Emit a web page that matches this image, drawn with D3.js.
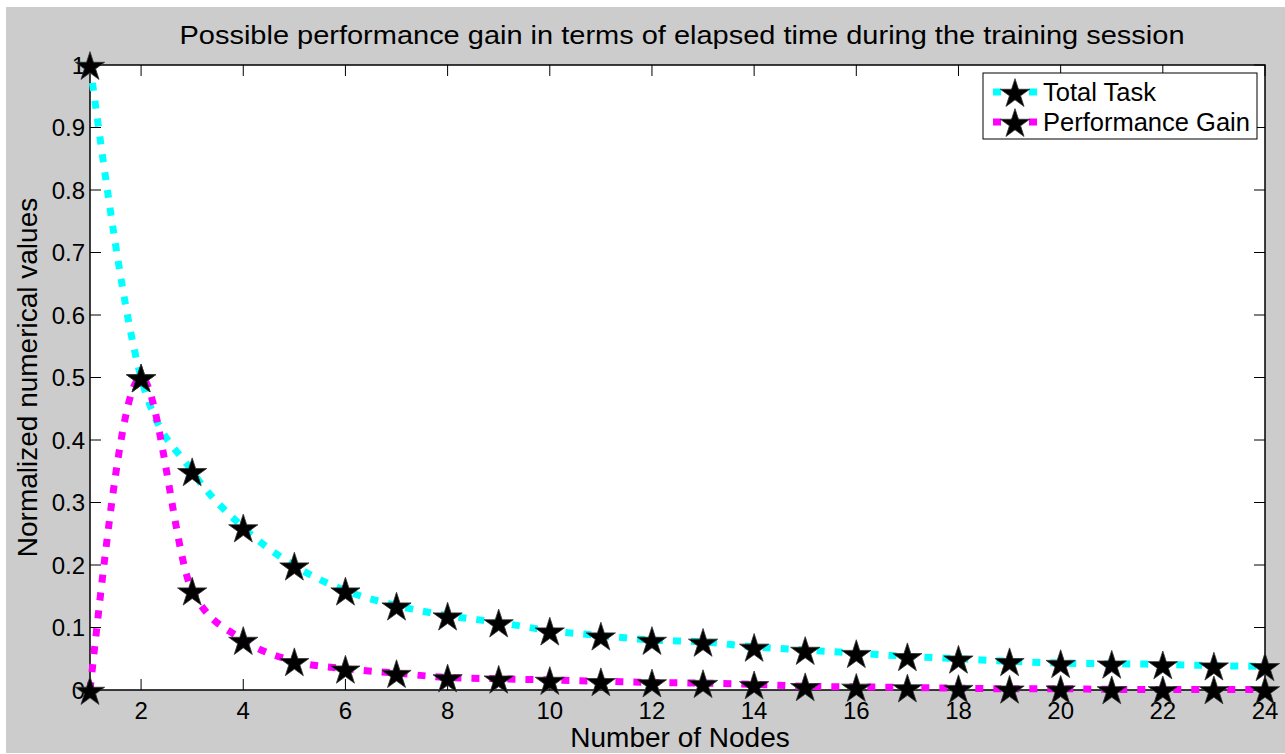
<!DOCTYPE html>
<html>
<head>
<meta charset="utf-8">
<script src="https://cdn.jsdelivr.net/npm/d3@7/dist/d3.min.js"></script>
<style>
  html, body { margin: 0; padding: 0; background: #ffffff; }
  svg { display: block; font-family: "Liberation Sans", Arial, Helvetica, sans-serif; }
</style>
</head>
<body>
<svg id="chart" width="1285" height="754"></svg>
<script>
// ---- data ----
const nodes = [1,2,3,4,5,6,7,8,9,10,11,12,13,14,15,16,17,18,19,20,21,22,23,24];
const totalTask = [1.0, 0.5, 0.35, 0.26, 0.199, 0.159, 0.135, 0.119, 0.108, 0.095, 0.087, 0.080, 0.077, 0.069, 0.064, 0.059, 0.054, 0.050, 0.046, 0.043, 0.042, 0.041, 0.039, 0.038];
const perfGain  = [0.0, 0.5, 0.159, 0.080, 0.046, 0.034, 0.027, 0.020, 0.018, 0.016, 0.014, 0.012, 0.011, 0.009, 0.006, 0.005, 0.004, 0.003, 0.002, 0.002, 0.001, 0.001, 0.001, 0.001];
const seriesNames = ["Total Task", "Performance Gain"];
const seriesColors = ["#00ffff", "#ff00ff"];
const xTicks = [2,4,6,8,10,12,14,16,18,20,22,24];
const yTicks = [0,0.1,0.2,0.3,0.4,0.5,0.6,0.7,0.8,0.9,1];
const yTickLabels = ["0","0.1","0.2","0.3","0.4","0.5","0.6","0.7","0.8","0.9","1"];
const titleText = "Possible performance gain in terms of elapsed time during the training session";
const xLabel = "Number of Nodes";
const yLabel = "Normalized numerical values";

// ---- layout ----
const svg = d3.select("#chart");
const L = 90, R = 1265, T = 65, B = 690;
const x = d3.scaleLinear().domain([1, 24]).range([L, R]);
const y = d3.scaleLinear().domain([0, 1]).range([B, T]);

// figure background
svg.append("rect").attr("x", 6).attr("y", 7).attr("width", 1285 - 6).attr("height", 753 - 7).attr("fill", "#cccccc");
// axes background
svg.append("rect").attr("x", L).attr("y", T).attr("width", R - L).attr("height", B - T).attr("fill", "#ffffff");

const tickLen = 11;
// x ticks bottom & top (inward)
const gx = svg.append("g");
xTicks.forEach(t => {
  gx.append("line").attr("x1", x(t)).attr("x2", x(t)).attr("y1", B).attr("y2", B - tickLen).attr("stroke", "#000").attr("stroke-width", 1);
  gx.append("line").attr("x1", x(t)).attr("x2", x(t)).attr("y1", T).attr("y2", T + tickLen).attr("stroke", "#000").attr("stroke-width", 1);
  gx.append("text").attr("x", x(t)).attr("y", 719).attr("text-anchor", "middle").attr("font-size", 24).attr("fill", "#000").text(t);
});
// y ticks left & right
const gy = svg.append("g");
yTicks.forEach((t, i) => {
  gy.append("line").attr("x1", L).attr("x2", L + tickLen).attr("y1", y(t)).attr("y2", y(t)).attr("stroke", "#000").attr("stroke-width", 1);
  gy.append("line").attr("x1", R).attr("x2", R - tickLen).attr("y1", y(t)).attr("y2", y(t)).attr("stroke", "#000").attr("stroke-width", 1);
  gy.append("text").attr("x", 85).attr("y", y(t) + 8.5).attr("text-anchor", "end").attr("font-size", 24).attr("fill", "#000").text(yTickLabels[i]);
});

// axes box
svg.append("rect").attr("x", L).attr("y", T).attr("width", R - L).attr("height", B - T)
  .attr("fill", "none").attr("stroke", "#000").attr("stroke-width", 1.5);

// lines
const line = d3.line().x((d, i) => x(nodes[i])).y(d => y(d)).curve(d3.curveMonotoneX);
const seriesData = [totalTask, perfGain];
seriesData.forEach((s, k) => {
  svg.append("path").datum(s).attr("d", line).attr("fill", "none")
    .attr("stroke", seriesColors[k]).attr("stroke-width", 7)
    .attr("stroke-dasharray", "8,10").attr("stroke-linecap", "butt");
});
// stars
const star = d3.symbol().type(d3.symbolStar).size(265);
seriesData.forEach((s, k) => {
  svg.append("g").selectAll("path").data(s).join("path")
    .attr("d", star)
    .attr("transform", (d, i) => `translate(${x(nodes[i])},${y(d) + 2})`)
    .attr("fill", "#000").attr("stroke", "#333").attr("stroke-width", 0.8);
});

// title
svg.append("text").attr("x", 682).attr("y", 44).attr("text-anchor", "middle").attr("font-size", 26)
  .attr("textLength", 1005).attr("lengthAdjust", "spacingAndGlyphs").attr("fill", "#000").text(titleText);
// x label
svg.append("text").attr("x", 680).attr("y", 747).attr("text-anchor", "middle").attr("font-size", 28).attr("fill", "#000").text(xLabel);
// y label
svg.append("text").attr("transform", `translate(37,${(T + B) / 2}) rotate(-90)`).attr("text-anchor", "middle")
  .attr("font-size", 28).attr("fill", "#000").text(yLabel);

// legend
const lg = svg.append("g");
lg.append("rect").attr("x", 983).attr("y", 73).attr("width", 274).attr("height", 66)
  .attr("fill", "#fff").attr("stroke", "#000").attr("stroke-width", 1);
const rowY = [92, 122];
seriesNames.forEach((name, k) => {
  lg.append("line").attr("x1", 993).attr("x2", 1037).attr("y1", rowY[k]).attr("y2", rowY[k])
    .attr("stroke", seriesColors[k]).attr("stroke-width", 7).attr("stroke-dasharray", "8,10");
  lg.append("path").attr("d", star).attr("transform", `translate(1015,${rowY[k] + 2})`)
    .attr("fill", "#000").attr("stroke", "#333").attr("stroke-width", 0.8);
  lg.append("text").attr("x", 1043).attr("y", rowY[k] + 9).attr("font-size", 25.5).attr("fill", "#000").text(name);
});
</script>
</body>
</html>
